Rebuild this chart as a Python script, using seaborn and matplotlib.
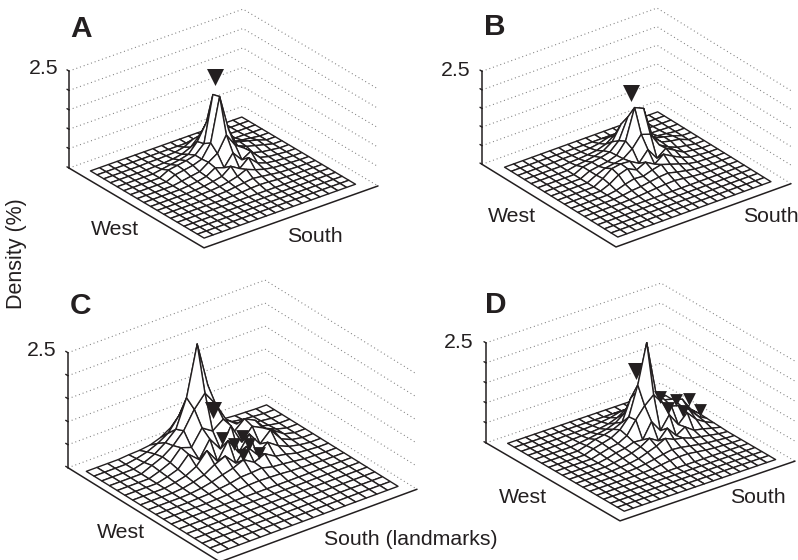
import numpy as np
import matplotlib
matplotlib.use("Agg")
import matplotlib.pyplot as plt
import seaborn as sns

# ---------- data (density %) ----------
panel_names = ["A", "B", "C", "D"]
z_ticks = [0.0, 0.5, 1.0, 1.5, 2.0, 2.5]
z_tick_label = "2.5"
floor_level = 0.02
grid_cells = 17

patch_a_origin = (2, 5)
patch_a = [
    [.03, .03, .04, .05, .10, .22, .10, .05, .03, .03, .02],
    [.03, .04, .06, .10, .20, .42, .22, .10, .05, .03, .03],
    [.06, .10, .14, .20, .45, .85, .45, .18, .12, .08, .05],
    [.14, .18, .22, .28, .50, 1.68, .65, .28, .22, .16, .10],
    [.12, .16, .20, .28, .62, 1.73, .80, .30, .20, .14, .08],
    [.06, .10, .14, .30, .45, .85, .50, .34, .14, .08, .05],
    [.04, .07, .12, .26, .18, .48, .22, .36, .12, .06, .04],
    [.03, .05, .09, .14, .32, .18, .38, .16, .08, .05, .03],
    [.03, .04, .06, .10, .16, .26, .17, .10, .06, .04, .03],
    [.02, .03, .04, .07, .10, .13, .10, .07, .04, .03, .02],
    [.02, .02, .03, .04, .06, .07, .06, .04, .03, .02, .02],
]
patch_b_origin = (2, 5)
patch_b = [
    [.03, .03, .04, .05, .09, .16, .14, .06, .04, .03, .02],
    [.04, .05, .07, .10, .18, .34, .30, .12, .06, .04, .03],
    [.07, .10, .14, .20, .36, .75, .62, .24, .12, .08, .05],
    [.14, .18, .22, .28, .50, 1.05, .90, .32, .22, .16, .10],
    [.14, .18, .22, .30, .60, 1.41, 1.30, .44, .22, .16, .12],
    [.14, .24, .28, .32, .50, .80, .72, .34, .20, .10, .06],
    [.16, .34, .38, .36, .22, .50, .18, .36, .22, .08, .05],
    [.12, .28, .36, .24, .36, .22, .40, .26, .14, .06, .04],
    [.06, .14, .20, .18, .26, .32, .24, .16, .08, .04, .03],
    [.04, .08, .10, .14, .18, .20, .14, .09, .05, .03, .02],
    [.03, .04, .06, .08, .10, .11, .08, .05, .03, .02, .02],
]
patch_c_origin = (0, 4)
patch_c = [
    [.04, .05, .08, .16, .30, .40, .20, .10, .08, .06, .04, .03],
    [.06, .12, .22, .36, .65, 1.05, .50, .24, .14, .10, .06, .04],
    [.08, .18, .34, .55, 1.15, 2.23, 1.25, .42, .22, .16, .08, .05],
    [.12, .22, .38, .62, 1.00, 1.27, .95, .52, .34, .26, .12, .06],
    [.10, .20, .44, .36, .70, .55, .72, .36, .56, .44, .18, .08],
    [.08, .16, .40, .20, .56, .26, .68, .24, .50, .38, .24, .08],
    [.06, .12, .24, .50, .18, .55, .20, .52, .22, .44, .16, .06],
    [.04, .09, .16, .30, .40, .16, .44, .18, .36, .20, .10, .05],
    [.03, .06, .11, .18, .24, .34, .20, .30, .16, .12, .06, .04],
    [.03, .04, .07, .10, .15, .16, .18, .12, .10, .07, .04, .03],
    [.02, .03, .04, .06, .08, .09, .08, .07, .05, .04, .03, .02],
]
patch_d_origin = (2, 5)
patch_d = [
    [.03, .03, .04, .05, .07, .10, .16, .10, .08, .06, .05, .03, .02],
    [.04, .05, .06, .08, .12, .20, .34, .20, .14, .10, .08, .05, .03],
    [.05, .08, .12, .16, .24, .40, .66, .40, .28, .20, .14, .08, .04],
    [.08, .16, .20, .26, .36, .90, 1.05, .75, .55, .45, .34, .14, .05],
    [.10, .16, .22, .35, .60, 1.32, 2.30, 1.00, .72, .66, .58, .24, .06],
    [.08, .14, .18, .30, .62, .90, 1.10, .82, .66, .60, .42, .18, .05],
    [.06, .12, .16, .24, .22, .60, .30, .62, .30, .52, .28, .14, .04],
    [.05, .09, .14, .22, .36, .22, .46, .20, .34, .18, .14, .08, .03],
    [.04, .06, .10, .18, .26, .38, .28, .24, .16, .12, .08, .04, .02],
    [.03, .04, .07, .11, .16, .20, .18, .14, .10, .07, .05, .03, .02],
    [.02, .03, .04, .07, .10, .12, .12, .09, .06, .04, .03, .02, .02],
]

# landmark triangles: mesh row, mesh column, height
big_marker_a = (4.72, 10.39, 2.06)
big_marker_b = (4.72, 10.5, 1.63)
big_marker_c = (4.72, 8.5, 1.13)
big_marker_d = (4.72, 10.8, 1.47)
small_markers_c_i = [5.67, 6.61, 5.67, 6.61, 7.56, 7.56]
small_markers_c_j = [8.69, 9.07, 10.58, 10.48, 9.26, 10.77]
small_markers_c_z = [.60, .54, .49, .42, .38, .28]
small_markers_d_i = [5.67, 5.67, 5.67, 7.56, 7.56, 7.56]
small_markers_d_j = [12.8, 14.5, 15.95, 12.2, 13.85, 15.75]
small_markers_d_z = [.76, .57, .47, .72, .54, .40]

# ---------- style ----------
sns.set_theme(style="white")
plt.rcParams["font.family"] = ["Liberation Sans", "DejaVu Sans"]
INK = "#231f20"
W_PX, H_PX = 798, 560
fig = plt.figure(figsize=(W_PX / 100, H_PX / 100), dpi=100, facecolor="white")


def surface(patch, origin):
    z = np.full((grid_cells + 1, grid_cells + 1), floor_level)
    p = np.array(patch)
    z[origin[0]:origin[0] + p.shape[0], origin[1]:origin[1] + p.shape[1]] = p
    return z


panels = {
    "A": dict(left=(69, 167), front=(204, 248), right=(378, 187), ztop=70,
              xr=(.088, .93), yr=(.055, .925), z=surface(patch_a, patch_a_origin),
              big=big_marker_a, big_behind=False, small=None,
              letter=(70, 37), tick=(58, 69), west=(91, 235), south=(287, 242), slabel="South"),
    "B": dict(left=(482, 164), front=(616, 247), right=(791, 184), ztop=71,
              xr=(.09, .935), yr=(.06, .935), z=surface(patch_b, patch_b_origin),
              big=big_marker_b, big_behind=False, small=None,
              letter=(484, 35), tick=(470, 70), west=(488, 222), south=(743, 222), slabel="South"),
    "C": dict(left=(68, 467), front=(220, 562), right=(417, 490), ztop=352,
              xr=(.075, .94), yr=(.035, .95), z=surface(patch_c, patch_c_origin),
              big=big_marker_c, big_behind=False,
              small=(small_markers_c_i, small_markers_c_j, small_markers_c_z),
              letter=(70, 314), tick=(56, 351), west=(97, 538), south=(324, 545),
              slabel="South (landmarks)"),
    "D": dict(left=(486, 442), front=(620, 521), right=(795, 462), ztop=342,
              xr=(.07, .94), yr=(.07, .935), z=surface(patch_d, patch_d_origin),
              big=big_marker_d, big_behind=True,
              small=(small_markers_d_i, small_markers_d_j, small_markers_d_z),
              letter=(485, 313), tick=(473, 342), west=(499, 503), south=(730, 503), slabel="South"),
}


def fx(px):
    return px / W_PX


def fy(py):
    return 1 - py / H_PX


for name in panel_names:
    p = panels[name]
    lft, frt, rgt = map(np.array, (p["left"], p["front"], p["right"]))
    vx, vy = frt - lft, rgt - frt
    vy_up = -vy[1]
    az_h = p["left"][1] - p["ztop"]
    side = np.hypot(vx[0], vy[0])
    s = np.sqrt((vx[1] / vx[0]) * (vy_up / vy[0]))
    elev = np.degrees(np.arcsin(s))
    azim = -np.degrees(np.arctan2(vx[0], vy[0]))
    r = az_h / (np.cos(np.radians(elev)) * side)
    factor = 1.8294640721620434 * 25 / 24 / np.sqrt(2 + r * r)
    size = side * 1.85 / factor
    cx = (lft[0] + rgt[0]) / 2
    cy = (lft[1] + rgt[1]) / 2 - az_h / 2
    ax = fig.add_axes([fx(cx - 0.95 / 1.85 * size), fy(cy + 0.95 / 1.85 * size),
                       size / W_PX, size / H_PX], projection="3d", computed_zorder=False)
    ax.set_proj_type("ortho")
    ax.view_init(elev=elev, azim=azim)
    ax.set_box_aspect((1, 1, r))
    ax.set_xlim(0, 1)
    ax.set_ylim(0, 1)
    ax.set_zlim(0, 2.5)
    ax.set_axis_off()
    ax.patch.set_alpha(0)

    # dotted walls
    for zt in z_ticks:
        ax.plot([0, 0, 1], [0, 1, 1], [zt, zt, zt], color="#808080", lw=0.8,
                ls=(0, (0.9, 2.6)), zorder=1)
        ax.plot([-0.015, 0], [0, 0], [zt, zt], color=INK, lw=1.0, zorder=2)
    # axis lines
    ax.plot([0, 0], [0, 0], [0, 2.5], color=INK, lw=1.1, zorder=2)
    ax.plot([0, 1, 1], [0, 0, 1], [0, 0, 0], color=INK, lw=1.1, zorder=2)

    xs = np.linspace(*p["xr"], grid_cells + 1)
    ys = np.linspace(*p["yr"], grid_cells + 1)
    X, Y = np.meshgrid(xs, ys, indexing="ij")

    def mx(i):
        return p["xr"][0] + np.asarray(i) / grid_cells * (p["xr"][1] - p["xr"][0])

    def my(j):
        return p["yr"][0] + np.asarray(j) / grid_cells * (p["yr"][1] - p["yr"][0])

    bi, bj, bz = p["big"]
    ax.scatter([mx(bi)], [my(bj)], [bz], marker="v", s=150, c=INK, linewidths=0,
               depthshade=False, zorder=3 if p["big_behind"] else 6)
    ax.plot_surface(X, Y, p["z"], rstride=1, cstride=1, color="white", edgecolor=INK,
                    linewidth=1.0, shade=False, antialiased=True, zorder=4)
    if p["small"] is not None:
        si, sj, sz = p["small"]
        ax.scatter(mx(si), my(sj), sz, marker="v", s=85, c=INK, linewidths=0,
                   depthshade=False, zorder=6)

    fig.text(fx(p["letter"][0]), fy(p["letter"][1]), name, fontsize=21.5, fontweight="bold",
             color=INK, ha="left", va="baseline")
    fig.text(fx(p["tick"][0]), fy(p["tick"][1]), z_tick_label, fontsize=15.3, color=INK,
             ha="right", va="center")
    fig.text(fx(p["west"][0]), fy(p["west"][1]), "West", fontsize=15.3, color=INK,
             ha="left", va="baseline")
    fig.text(fx(p["south"][0]), fy(p["south"][1]), p["slabel"], fontsize=15.3, color=INK,
             ha="left", va="baseline")

fig.text(fx(17), fy(254), "Density (%)", rotation=90, fontsize=15.5, color=INK,
         ha="center", va="center")

fig.savefig("out.png", dpi=100, facecolor="white")
